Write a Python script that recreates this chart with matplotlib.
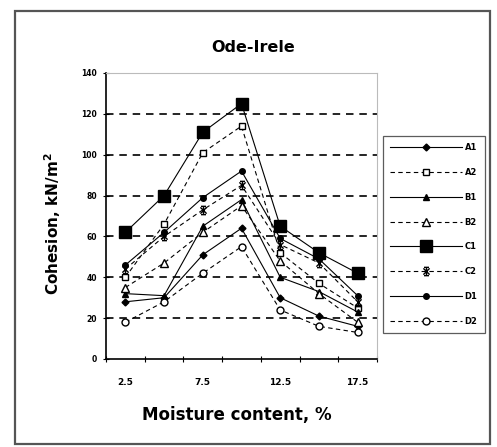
import matplotlib
matplotlib.use("Agg")
import matplotlib.pyplot as plt
from matplotlib.path import Path
from matplotlib.patches import Rectangle
import numpy as np

plt.rcParams['font.family'] = ['DejaVu Sans']
plt.rcParams['font.weight'] = 'bold'

# Moisture content categories (%)
moisture = ["2.5", "5.0", "7.5", "10.0", "12.5", "15.0", "17.5"]
tick_labels = ["2.5", "", "7.5", "", "12.5", "", "17.5"]

# Cohesion values (kN/m^2) for each sample series
A1 = [28, 30, 51, 64, 30, 21, 16]
A2 = [40, 66, 101, 114, 52, 37, 25]
B1 = [32, 31, 65, 78, 40, 33, 23]
B2 = [35, 47, 62, 75, 48, 32, 18]
C1 = [62, 80, 111, 125, 65, 52, 42]
C2 = [44, 60, 73, 85, 56, 47, 28]
D1 = [46, 62, 79, 92, 59, 49, 31]
D2 = [18, 28, 42, 55, 24, 16, 13]

# Asterisk-like marker with end bars
star = Path(
    [(0, -1), (0, 1), (-0.75, -0.75), (0.75, 0.75), (-0.75, 0.75), (0.75, -0.75),
     (-0.6, 1), (0.6, 1), (-0.6, -1), (0.6, -1)],
    [Path.MOVETO, Path.LINETO] * 5,
)

series = [
    ("A1", A1, dict(ls='-', marker='D', ms=3.5, mfc='black', mec='black')),
    ("A2", A2, dict(ls='--', marker='s', ms=5, mfc='white', mec='black')),
    ("B1", B1, dict(ls='-', marker='^', ms=5, mfc='black', mec='black')),
    ("B2", B2, dict(ls='--', marker='^', ms=6, mfc='white', mec='black')),
    ("C1", C1, dict(ls='-', marker='s', ms=8.5, mfc='black', mec='black')),
    ("C2", C2, dict(ls='--', marker=star, ms=6, mfc='none', mec='black', mew=1.0)),
    ("D1", D1, dict(ls='-', marker='o', ms=4, mfc='black', mec='black')),
    ("D2", D2, dict(ls='--', marker='o', ms=5, mfc='white', mec='black')),
]

W, H = 497, 447
fig = plt.figure(figsize=(W / 100, H / 100), dpi=100)
fig.patch.set_facecolor('white')

# Outer chart frame
fig.patches.append(Rectangle((15 / W, 1 - 444 / H), 475 / W, 433 / H,
                             transform=fig.transFigure, fill=False,
                             ec='#555555', lw=1.6))

ax = fig.add_axes([106 / W, 1 - 359 / H, 271 / W, 286 / H])
x = np.arange(len(moisture))

for name, vals, st in series:
    style = {k: v for k, v in st.items() if k != 'ls'}
    line, = ax.plot(x, vals, color='black', lw=0.8, label=name, **style)
    if st['ls'] == '--':
        line.set_dashes((4, 3))

ax.set_xlim(-0.5, len(moisture) - 0.5)
ax.set_ylim(0, 140)
ax.set_yticks(np.arange(0, 141, 20))
ax.tick_params(axis='y', labelsize=5.5, direction='inout', length=5, width=0.8, pad=4)
ax.set_xticks(x)
ax.set_xticklabels(tick_labels, fontsize=6.5, fontweight='bold')
ax.set_xticks(np.arange(-0.5, len(moisture), 1), minor=True)
ax.tick_params(axis='x', which='major', length=0, pad=14)
ax.tick_params(axis='x', which='minor', direction='inout', length=5, width=0.8)
for lab in ax.get_yticklabels():
    lab.set_fontweight('bold')

for yv in range(20, 140, 20):
    gl = ax.axhline(yv, color='black', lw=1.2, zorder=0)
    gl.set_dashes((4.5, 3.5))

for side in ('top', 'right'):
    ax.spines[side].set_color('#bbbbbb')
    ax.spines[side].set_linewidth(0.8)
for side in ('left', 'bottom'):
    ax.spines[side].set_color('black')
    ax.spines[side].set_linewidth(1.2)

fig.text(253 / W, 1 - 48 / H, "Ode-Irele", ha='center', va='center',
         fontsize=11.5, fontweight='bold')
fig.text(53 / W, 1 - 224 / H, "Cohesion, kN/m$^{\\mathbf{2}}$", ha='center', va='center',
         rotation=90, fontsize=11, fontweight='bold')
fig.text(237 / W, 1 - 415 / H, "Moisture content, %", ha='center', va='center',
         fontsize=12, fontweight='bold')

leg = fig.legend(loc='upper left', bbox_to_anchor=(383 / W, 1 - 136 / H),
                 bbox_transform=fig.transFigure, fontsize=6, frameon=True,
                 fancybox=False, edgecolor='#333333', handlelength=8.6,
                 labelspacing=1.9, borderpad=0.85, handletextpad=0.35,
                 borderaxespad=0)
leg.get_frame().set_linewidth(0.9)

fig.savefig("out.png", dpi=100, facecolor='white')
